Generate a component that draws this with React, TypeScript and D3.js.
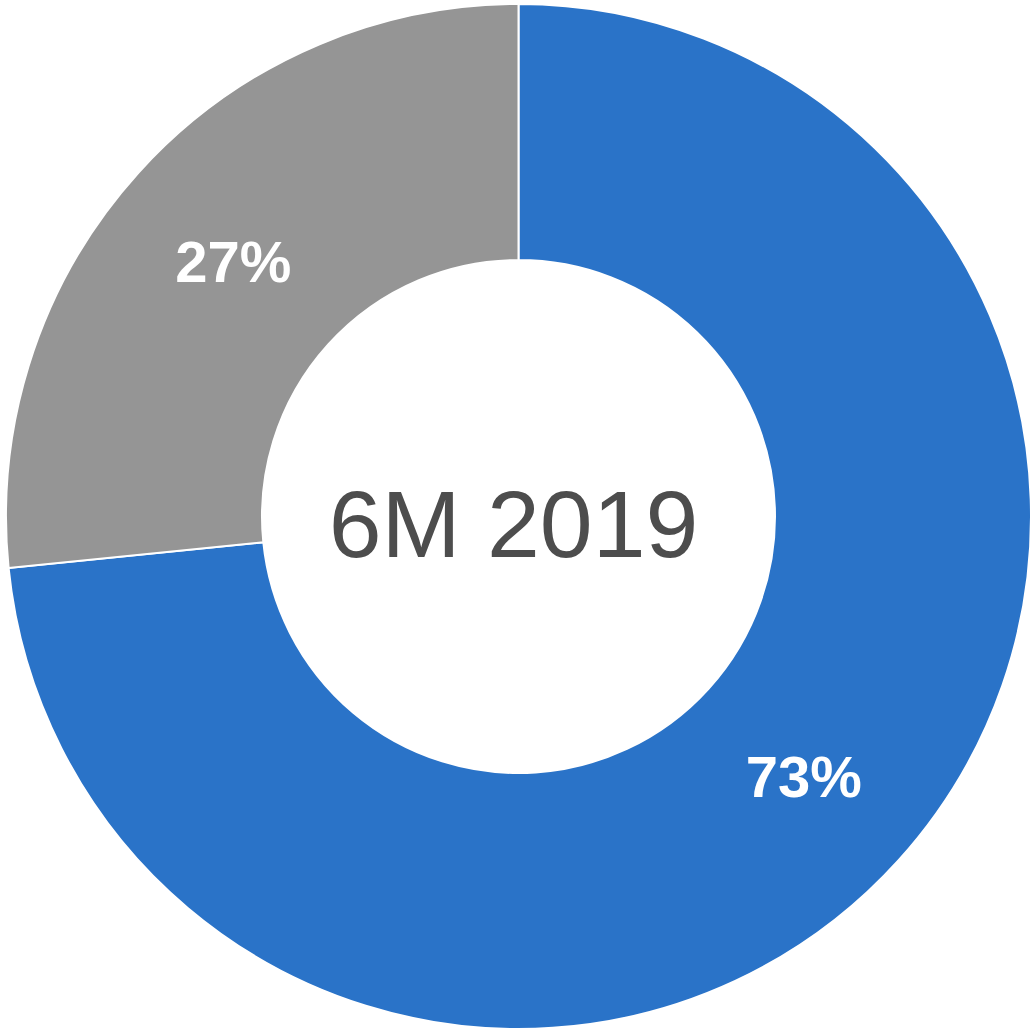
import React from "react";
import * as d3 from "d3";

const categories = ["Blue", "Gray"];
const values = [73.4, 26.6];
const labels = ["73%", "27%"];
const colors = ["#2a73c8", "#959595"];
const centerTitle = "6M 2019";

const W = 1034;
const H = 1030;
const cx = 518.5;
const cy = 516.5;
const outerR = 512.5;
const innerR = 256.5;

export default function App() {
  const pie = d3.pie<number>().sort(null).value((d) => d);
  const arcs = pie(values);
  const arc = d3.arc<d3.PieArcDatum<number>>().innerRadius(innerR).outerRadius(outerR);
  const labelArc = d3
    .arc<d3.PieArcDatum<number>>()
    .innerRadius((innerR + outerR) / 2)
    .outerRadius((innerR + outerR) / 2);
  return (
    <svg
      width={W}
      height={H}
      style={{ position: "absolute", left: 0, top: 0, background: "#fff" }}
    >
      <g transform={`translate(${cx},${cy})`}>
        {arcs.map((a, i) => (
          <path
            key={categories[i]}
            d={arc(a) || ""}
            fill={colors[i]}
            stroke="#ffffff"
            strokeWidth={2}
          />
        ))}
        {arcs.map((a, i) => {
          const [x, y] = labelArc.centroid(a);
          return (
            <text
              key={"l" + i}
              x={x}
              y={y + 2}
              dy="0.36em"
              textAnchor="middle"
              fill="#ffffff"
              fontFamily="Liberation Sans, Arial, sans-serif"
              fontWeight="bold"
              fontSize={58}
            >
              {labels[i]}
            </text>
          );
        })}
        <text
          x={-5}
          y={6}
          dy="0.36em"
          textAnchor="middle"
          fill="#4d4d4d"
          fontFamily="Liberation Sans, Arial, sans-serif"
          fontSize={95}
        >
          {centerTitle}
        </text>
      </g>
    </svg>
  );
}
